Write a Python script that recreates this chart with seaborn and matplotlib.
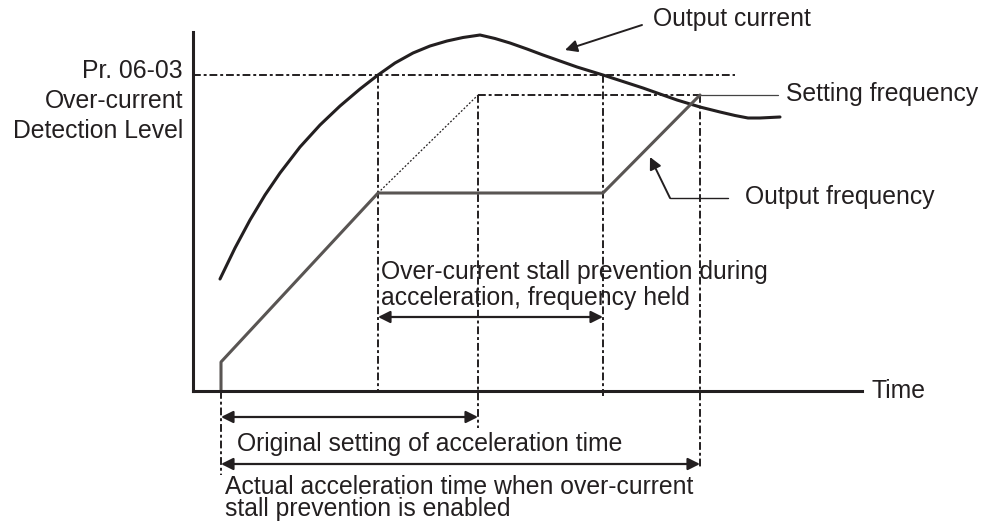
import matplotlib
matplotlib.use("Agg")
import matplotlib.pyplot as plt
import seaborn as sns

sns.set_style("white")
plt.rcParams["font.family"] = ["Liberation Sans", "DejaVu Sans"]

INK = "#231f20"
FREQ = "#595553"

# Key instants along the time axis
t_start = 28          # acceleration begins
t_hold_start = 185    # current reaches detection level, frequency held
t_orig_end = 285      # end of the original acceleration time
t_hold_end = 410      # current drops below level, acceleration resumes
t_actual_end = 507    # end of the actual acceleration time

# Levels on the vertical axis
level_detect = 316    # Pr. 06-03 over-current detection level
f_set = 296           # setting frequency
f_hold = 198          # frequency held during stall prevention
f_initial = 29        # starting frequency

# Output current curve
current_t = [27, 42, 57, 72, 87, 107, 127, 147, 167, 185, 202, 220, 237, 254, 270, 287,
             302, 317, 334, 350, 367, 384, 410, 430, 450, 467, 484, 507, 527, 542, 555,
             567, 587]
current_y = [112, 143, 171, 196, 218, 244, 266, 285, 302, 316, 328, 338, 345, 350, 353.5,
             356, 352.5, 348, 342, 336, 330, 324, 316, 309.5, 303, 297, 291, 284, 279,
             275.5, 273, 273, 274]

# Output frequency curve
freq_t = [t_start, t_start, t_hold_start, t_hold_end, t_actual_end]
freq_y = [0, f_initial, f_hold, f_hold, f_set]

fig = plt.figure(figsize=(9.89, 5.25), dpi=100)
ax = fig.add_axes([193 / 989, 134 / 525, 669 / 989, 359 / 525])
ax.set_xlim(0, 669)
ax.set_ylim(0, 359)
ax.set_xticks([])
ax.set_yticks([])
for side in ("top", "right"):
    ax.spines[side].set_visible(False)
for side in ("left", "bottom"):
    ax.spines[side].set_linewidth(2.2)
    ax.spines[side].set_color(INK)

dashdot = (0, (4, 1.5, 1.5, 1.5))
dkw = dict(color=INK, lw=1.4, linestyle=dashdot, clip_on=False)

# Reference lines
ax.plot([0, 542], [level_detect, level_detect], **dkw)
ax.plot([t_orig_end, t_actual_end], [f_set, f_set], **dkw)
ax.plot([t_actual_end, 585], [f_set, f_set], color="#444444", lw=0.9, clip_on=False)
ax.plot([t_hold_start, t_orig_end], [f_hold, f_set], color=INK, lw=0.9,
        linestyle=(0, (1.5, 1.5)), clip_on=False)

ax.plot([t_start, t_start], [0, -84], **dkw)
ax.plot([t_hold_start, t_hold_start], [level_detect, 0], **dkw)
ax.plot([t_orig_end, t_orig_end], [f_set, -37], **dkw)
ax.plot([t_hold_end, t_hold_end], [level_detect, -5], **dkw)
ax.plot([t_actual_end, t_actual_end], [f_set, -78], **dkw)

# Curves
sns.lineplot(x=current_t, y=current_y, sort=False, estimator=None, ax=ax,
             color=INK, lw=2.2, clip_on=False)
sns.lineplot(x=freq_t, y=freq_y, sort=False, estimator=None, ax=ax,
             color=FREQ, lw=2.2, clip_on=False)
for line in ax.lines[-2:]:
    line.set_solid_joinstyle("round")

# Arrows
one = dict(arrowstyle="-|>,head_length=0.6,head_width=0.3", color=INK, lw=1.4,
           shrinkA=0, shrinkB=0, mutation_scale=12)
two = dict(arrowstyle="<|-|>,head_length=0.6,head_width=0.3", color=INK, lw=1.6,
           shrinkA=0, shrinkB=0, mutation_scale=12)

ax.annotate("", xy=(372, 341), xytext=(449, 366), arrowprops=one, annotation_clip=False)
ax.annotate("", xy=(457, 234), xytext=(477, 193), arrowprops=one, annotation_clip=False)
ax.plot([477, 535], [193, 193], color=INK, lw=1.0, clip_on=False)

ax.annotate("", xy=(t_hold_start, 74), xytext=(t_hold_end, 74), arrowprops=two,
            annotation_clip=False)
ax.annotate("", xy=(t_start, -26), xytext=(t_orig_end, -26), arrowprops=two,
            annotation_clip=False)
ax.annotate("", xy=(t_start, -73), xytext=(t_actual_end, -73), arrowprops=two,
            annotation_clip=False)

# Labels
fs = 17.8
tkw = dict(fontsize=fs, color=INK, va="center", clip_on=False)
ax.text(460, 372, "Output current", ha="left", **tkw)
ax.text(593, 297, "Setting frequency", ha="left", **tkw)
ax.text(552, 194, "Output frequency", ha="left", **tkw)
ax.text(679, 0, "Time", ha="left", **tkw)

ax.text(-10, 320, "Pr. 06-03", ha="right", **tkw)
ax.text(-10, 290, "Over-current", ha="right", **tkw)
ax.text(-10, 260, "Detection Level", ha="right", **tkw)

ax.text(188, 119, "Over-current stall prevention during", ha="left", **tkw)
ax.text(188, 93, "acceleration, frequency held", ha="left", **tkw)

ax.text(44, -53, "Original setting of acceleration time", ha="left", **tkw)
ax.text(32, -96, "Actual acceleration time when over-current", ha="left", **tkw)
ax.text(32, -118, "stall prevention is enabled", ha="left", **tkw)

fig.savefig("out.png", dpi=100)
